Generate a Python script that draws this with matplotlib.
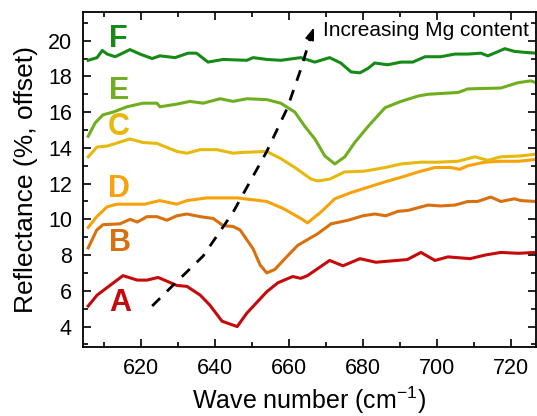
import matplotlib
matplotlib.use("Agg")
import matplotlib.pyplot as plt
from matplotlib.ticker import MultipleLocator

plt.rcParams['font.family'] = ['Liberation Sans', 'DejaVu Sans']
plt.rcParams['mathtext.fontset'] = 'custom'
plt.rcParams['mathtext.rm'] = 'Liberation Sans'
plt.rcParams['mathtext.it'] = 'Liberation Sans:italic'
plt.rcParams['mathtext.bf'] = 'Liberation Sans:bold'

# ---- data ----
a_x = [605.7, 608.1, 613.5, 615.1, 619.0, 621.6, 624.6, 629.7, 632.4, 636.0, 638.6, 641.9, 646.0, 648.6,
       654.0, 657.0, 661.0, 663.2, 665.0, 671.0, 674.6, 679.2, 683.5, 692.0, 695.7, 699.5, 703.0, 709.0,
       713.0, 717.3, 722.0, 726.8]
a_y = [5.15, 5.76, 6.6, 6.85, 6.6, 6.6, 6.75, 6.3, 6.25, 5.76, 5.2, 4.3, 4.0, 4.75,
       5.95, 6.45, 6.8, 6.7, 6.85, 7.7, 7.4, 7.8, 7.6, 7.75, 8.15, 7.7, 7.9, 7.8,
       8.0, 8.15, 8.1, 8.15]

b_x = [605.7, 608.0, 609.7, 614.3, 617.0, 619.0, 621.6, 624.3, 627.0, 629.7, 632.4, 636.0, 639.5, 642.2,
       644.9, 646.8, 650.3, 652.2, 654.0, 656.2, 658.9, 662.4, 667.8, 671.4, 676.0, 680.0, 683.2, 686.2,
       689.5, 692.2, 697.6, 701.0, 704.9, 708.4, 711.0, 714.6, 717.3, 721.0, 722.7, 726.8]
b_y = [8.4, 9.4, 9.7, 9.75, 10.0, 9.85, 10.15, 10.15, 9.95, 10.2, 10.3, 10.15, 10.05, 9.65,
       9.6, 9.4, 8.35, 7.45, 7.0, 7.2, 7.8, 8.55, 9.2, 9.75, 9.95, 10.2, 10.3, 10.2,
       10.45, 10.5, 10.8, 10.75, 10.8, 11.0, 11.0, 11.25, 11.0, 11.15, 11.05, 11.0]

d_x = [605.7, 608.0, 610.8, 613.5, 617.8, 621.0, 625.0, 629.7, 632.4, 637.8, 646.0, 654.0, 658.5, 663.2,
       665.0, 668.6, 672.4, 676.8, 681.4, 686.0, 690.3, 694.9, 699.5, 703.8, 706.2, 708.4, 713.0, 717.3,
       722.0, 726.8]
d_y = [9.55, 10.15, 10.7, 10.85, 10.85, 10.85, 11.05, 10.85, 11.05, 11.2, 11.2, 11.0, 10.6, 10.05,
       9.8, 10.4, 11.15, 11.5, 11.8, 12.1, 12.35, 12.65, 12.9, 12.9, 12.8, 13.0, 13.2, 13.25,
       13.25, 13.35]

c_x = [605.7, 608.1, 610.8, 617.0, 620.5, 624.3, 629.7, 632.4, 636.0, 640.5, 644.9, 647.6, 654.0, 657.8,
       661.6, 666.0, 667.8, 671.0, 675.0, 680.5, 686.0, 690.3, 695.7, 700.3, 705.7, 710.3, 713.8, 717.3,
       722.7, 726.8]
c_y = [13.5, 14.05, 14.1, 14.5, 14.3, 14.25, 13.8, 13.7, 13.9, 13.9, 13.7, 13.75, 13.8, 13.4,
       12.9, 12.25, 12.15, 12.25, 12.65, 12.7, 12.9, 13.1, 13.2, 13.2, 13.25, 13.5, 13.3, 13.5,
       13.55, 13.65]

e_x = [605.7, 607.6, 609.7, 612.4, 616.2, 620.5, 624.3, 625.1, 629.7, 633.2, 636.8, 641.4, 644.9, 648.6,
       654.0, 657.8, 661.6, 664.3, 667.0, 669.7, 672.4, 675.1, 677.8, 681.4, 686.0, 690.3, 694.9, 697.6,
       705.7, 708.4, 717.3, 722.0, 725.4, 726.8]
e_y = [14.65, 15.4, 15.85, 16.0, 16.3, 16.5, 16.5, 16.3, 16.45, 16.6, 16.5, 16.75, 16.6, 16.75,
       16.7, 16.5, 16.0, 15.2, 14.5, 13.55, 13.1, 13.5, 14.3, 15.2, 16.25, 16.6, 16.9, 17.0,
       17.1, 17.3, 17.35, 17.65, 17.75, 17.65]

f_x = [605.7, 608.1, 609.5, 610.8, 613.0, 617.0, 619.7, 623.0, 625.1, 629.2, 632.7, 635.0, 638.1, 642.2,
       648.6, 650.3, 654.0, 657.8, 663.2, 667.0, 671.0, 674.0, 676.8, 679.2, 681.4, 683.2, 686.7, 690.3,
       693.5, 696.8, 701.0, 704.9, 708.4, 711.9, 713.8, 718.4, 721.0, 723.5, 726.8]
f_y = [18.9, 19.05, 19.45, 19.25, 19.1, 19.5, 19.25, 19.0, 19.15, 19.05, 19.3, 19.3, 18.8, 18.95,
       18.9, 19.05, 18.95, 18.9, 19.05, 18.8, 19.05, 18.75, 18.25, 18.2, 18.45, 18.75, 18.65, 18.8,
       18.8, 19.1, 19.1, 19.25, 19.25, 19.3, 19.15, 19.55, 19.4, 19.35, 19.3]

labels = ['A', 'B', 'D', 'C', 'E', 'F']
colors = ['#c40a0a', '#d9700f', '#f7a20a', '#e6b90c', '#6fae1e', '#168a16']
label_pos = [(614.3, 5.33), (614.3, 8.68), (614.0, 11.7), (614.0, 15.17), (614.0, 17.16), (613.8, 20.1)]

arrow_x = [623.0, 628.6, 636.8, 644.9, 654.0, 659.5, 663.2, 666.0]
arrow_y = [5.15, 6.3, 7.95, 10.4, 13.8, 16.2, 18.4, 20.3]
arrow_tip = (666.8, 20.75)

series = [(a_x, a_y), (b_x, b_y), (d_x, d_y), (c_x, c_y), (e_x, e_y), (f_x, f_y)]

fig = plt.figure(figsize=(5.37, 4.16), dpi=100)
ax = fig.add_axes([0.1546, 0.166, 0.8434, 0.805])

for (xs, ys), col, lab, pos in zip(series, colors, labels, label_pos):
    ax.plot(xs, ys, color=col, lw=2.2, solid_joinstyle='round')
    ax.text(pos[0], pos[1], lab, color=col, fontsize=22, fontweight='bold',
            ha='center', va='center')

ax.plot(arrow_x, arrow_y, color='black', lw=2.0, dashes=(4, 3.5))
ax.annotate('', xy=arrow_tip, xytext=(arrow_x[-1], arrow_y[-1]),
            arrowprops=dict(arrowstyle='-|>,head_length=0.7,head_width=0.25', color='black', lw=1.5,
                            shrinkA=0, shrinkB=0))
ax.text(669.2, 20.55, 'Increasing Mg content', fontsize=15, ha='left', va='center')

ax.set_xlim(604.3, 726.8)
ax.set_ylim(2.86, 21.6)
ax.xaxis.set_major_locator(MultipleLocator(20))
ax.xaxis.set_minor_locator(MultipleLocator(10))
ax.yaxis.set_major_locator(MultipleLocator(2))
ax.yaxis.set_minor_locator(MultipleLocator(1))
ax.tick_params(which='both', direction='in', top=True, right=True, width=1.2, labelsize=15.5)
ax.tick_params(which='major', length=6, pad=8)
ax.tick_params(which='minor', length=3.5)
for s in ax.spines.values():
    s.set_linewidth(1.3)

ax.set_xlabel('Wave number (cm$^{-1}$)', fontsize=18, labelpad=4)
ax.set_ylabel('Reflectance (%, offset)', fontsize=19, labelpad=7)

fig.savefig('out.png', dpi=100)
